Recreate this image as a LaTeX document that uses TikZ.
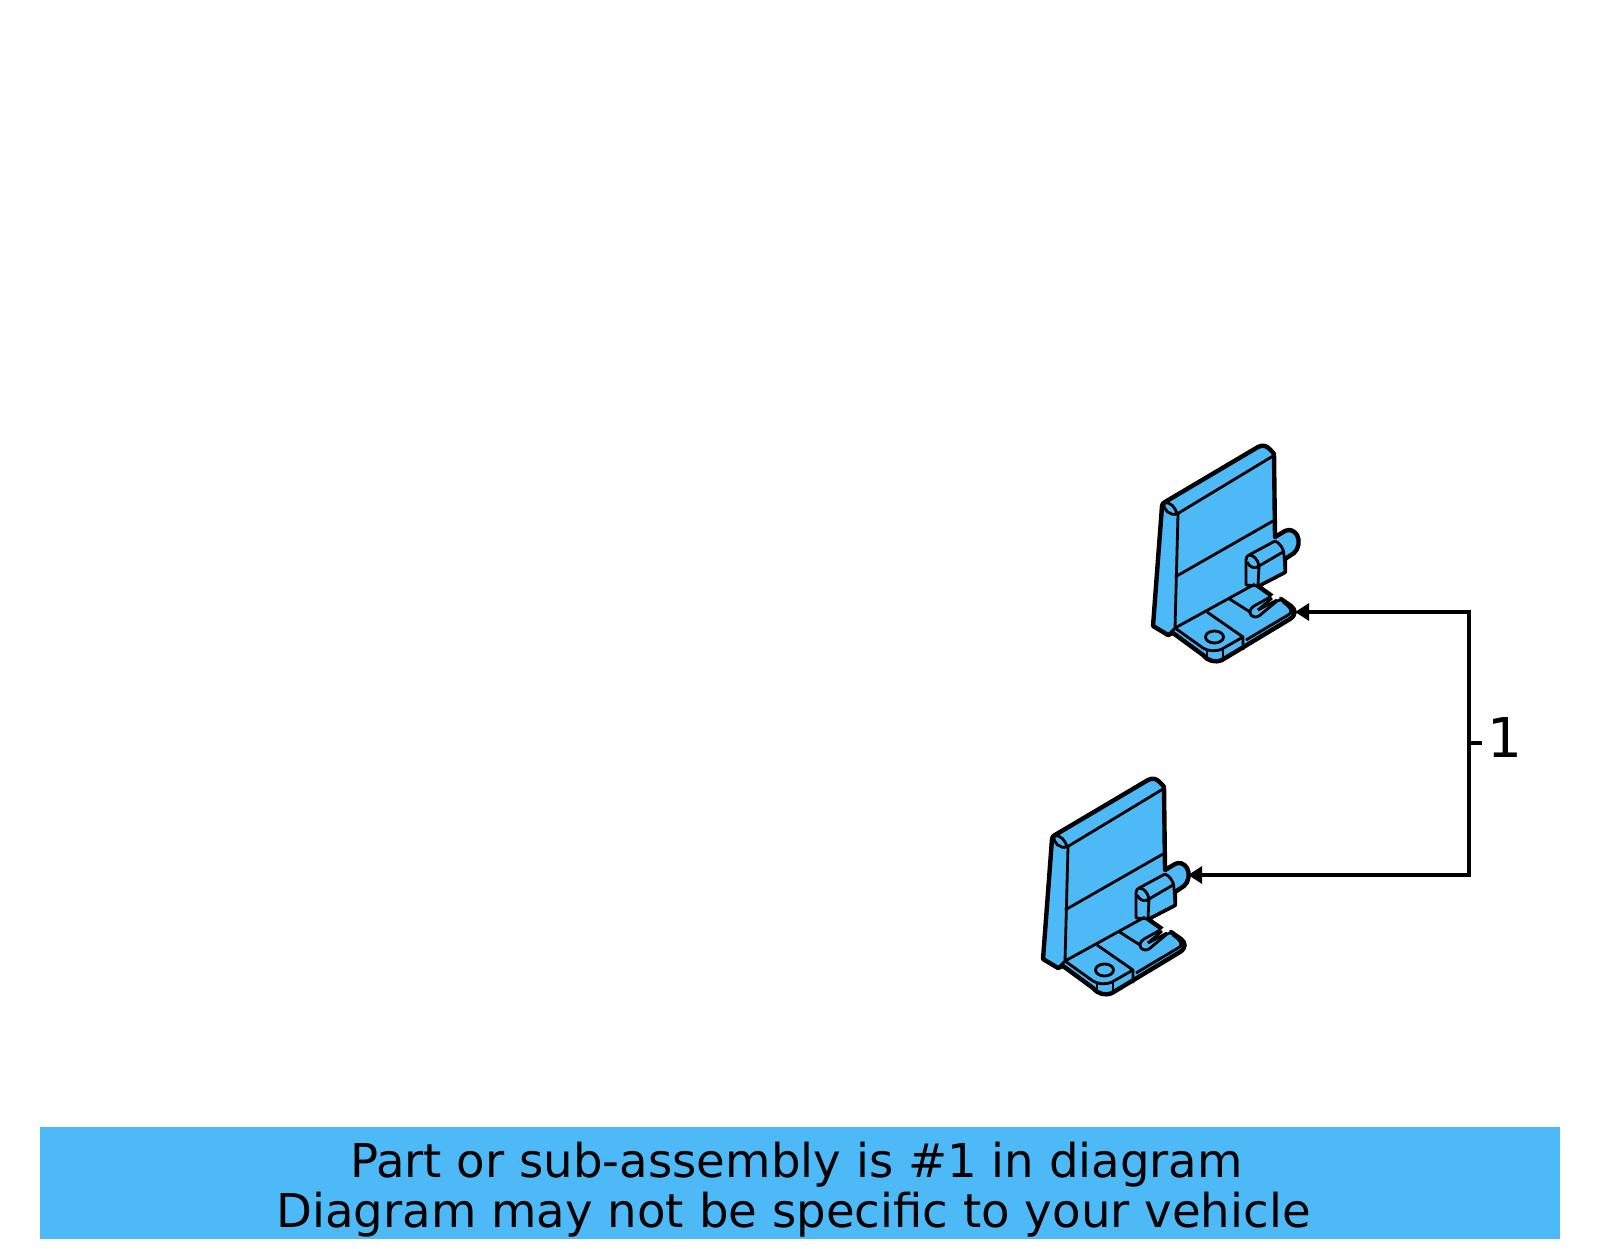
\documentclass[tikz,border=0pt]{standalone}
\usepackage{fontspec}
\setmainfont{DejaVu Sans}
\usetikzlibrary{arrows.meta}
\definecolor{partblue}{HTML}{4DBAF7}
\tikzset{
    outline/.style={draw=black,line width=1.25pt,line join=round},
    edge/.style={draw=black,line width=0.8pt,line join=round},
    leader/.style={draw=black,line width=1pt},
    leadarrow/.style={leader,-{Triangle[length=4pt,width=4.8pt]}},
    bannerline/.style={inner sep=0pt,anchor=base,font=\fontsize{13.26}{14.2}\selectfont},
    clip part/.pic={
        % body, then the edges on the faces
        \path[fill=partblue,outline] (1153,626) -- (1168,635) -- (1173,633) -- (1203,655)
            .. controls (1208,661) and (1215,663) .. (1222,660) -- (1290,619)
            .. controls (1296,615) and (1296,610) .. (1291,606) -- (1281,599)
            -- (1277,600) -- (1272,596) -- (1258,586) -- (1285,572) -- (1285,559) -- (1294,553)
            .. controls (1299,549) and (1300,540) .. (1297,535)
            .. controls (1294,530) and (1289,529) .. (1285,531) -- (1275,537) -- (1274,454)
            .. controls (1272,451) and (1268,447) .. (1265,446)
            .. controls (1263,445) and (1260,446) .. (1258,447) -- (1165,502)
            .. controls (1163,503) and (1162,504) .. (1162,506) -- cycle;
        % column and panel
        \path[edge] (1164,503) .. controls (1170,501) and (1176,508) .. (1177,514)
            .. controls (1170,516) and (1163,510) .. (1164,503);
        \path[edge] (1177,514) -- (1273,456);
        \path[edge] (1178,514) -- (1175,628) -- (1168,635);
        \path[edge] (1175,577) -- (1273,521);
        % pin
        \path[fill=partblue,edge] (1246,585) -- (1246,560) .. controls (1246,557) and (1247,556) .. (1249,555)
            -- (1275,541) .. controls (1280,543) and (1284,549) .. (1284,555) -- (1285,572)
            -- (1258,586) -- cycle;
        \path[edge] (1247,562) .. controls (1250,568) and (1255,569) .. (1259,566) -- (1283,552);
        \path[edge] (1249,555) .. controls (1254,555) and (1258,560) .. (1259,566) -- (1258,585);
        % plate
        \path[edge] (1175,628) -- (1255,584);
        \path[edge] (1175,628) -- (1203,648) .. controls (1208,651) and (1215,652) .. (1222,649) -- (1243,637);
        \path[edge] (1207,612) -- (1243,637) -- (1243,650);
        \path[edge] (1207,650) -- (1207,659);
        \path[edge] (1223,649) -- (1223,660);
        \path[edge] (1228,598) -- (1250,612);
        % slot
        \path[fill=partblue,edge] (1272,596) -- (1254,606) .. controls (1249,609) and (1249,614) .. (1252,616)
            .. controls (1254,618) and (1257,617) .. (1259,616) -- (1277,601);
        \fill[white] (1258,610) -- (1274,594) -- (1280,598) -- cycle;
        \path[edge] (1258,610) -- (1272,598);
        \path[edge] (1258,610) -- (1277,600);
        \path[edge] (1283,602) -- (1288,606) .. controls (1292,610) and (1292,613) .. (1288,615) -- (1246,640);
        \path[edge] (1214.5,637) ellipse [x radius=9,y radius=6];
        \coordinate (-plate) at (1295,612);
        \coordinate (-pin) at (1298,542);
    }
}
\begin{document}
\begin{tikzpicture}[x=0.01cm,y=-0.01cm]
\useasboundingbox (0,0) rectangle (1600,1249);

\pic (upper) at (0,0) {clip part};
\pic (lower) at (-110,333) {clip part};

\node[inner sep=0pt,font=\fontsize{15.6}{18}\selectfont,anchor=base west] (one) at (1487,757) {1};
\coordinate (spine) at (1469,743);
\coordinate (tick) at (1482,743);

\draw[leader] (spine) -- (tick);
\draw[leadarrow] (spine) |- (upper-plate);
\draw[leadarrow] (spine) |- (lower-pin);

\node[fill=partblue,minimum width=15.2cm,minimum height=1.12cm,inner sep=0pt] (banner) at (800,1183) {};
\node[bannerline] (lineone) at (796.5,1177) {Part or sub-assembly is \#1 in diagram};
\node[bannerline] (linetwo) at (793.5,1227) {Diagram may not be specific to your vehicle};
\end{tikzpicture}
\end{document}
